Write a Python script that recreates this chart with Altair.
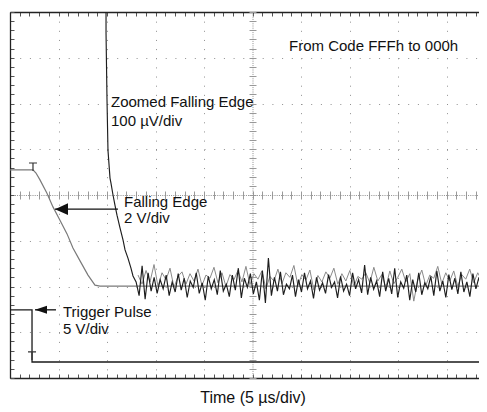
import altair as alt
import pandas as pd

W, H = 469, 366
FONT = "Liberation Sans"
GRID = "#8f8f8f"
T_MAX = 48.35          # visible end of the time axis (µs)

# ---------------- data (time in µs, level in screen divisions, 0 = bottom) -------------
# Trigger pulse (5 V/div)
trig_t = [0.0, 2.27, 2.27, 50.0]
trig_v = [1.49, 1.49, 0.35, 0.35]

# Falling edge (2 V/div)
edge_t = [0.0, 2.37, 2.68, 3.09, 3.81, 4.43, 5.15, 5.88, 6.49, 7.22, 8.04, 8.76, 9.28, 50.0]
edge_v = [4.55, 4.55, 4.48, 4.33, 4.04, 3.74, 3.45, 3.15, 2.84, 2.56, 2.25, 2.03, 2.01, 2.01]

# Zoomed falling edge (100 µV/div): the steep part ...
zoom_t = [9.90, 9.90, 10.00, 10.10, 10.31, 10.41, 10.62, 10.82, 11.03, 11.34, 11.65, 11.86,
          12.16, 12.47, 12.68]
zoom_v = [8.0, 7.54, 6.08, 4.98, 4.37, 4.26, 4.00, 3.78, 3.56, 3.28, 3.02, 2.80, 2.62, 2.40, 2.23]

# ... and the settled noise (dark samples)
noise_dark_t0, noise_dark_dt = 13.0, 0.31
noise_dark = [
    2.10, 1.80, 2.45, 1.72, 2.30, 1.90, 2.20, 1.85, 2.15, 1.95,
    2.25, 1.80, 2.10, 1.88, 2.28, 1.92, 2.18, 1.76, 2.12, 1.98,
    2.30, 1.85, 2.08, 1.70, 2.22, 1.95, 2.15, 1.82, 2.35, 1.90,
    2.05, 1.78, 2.25, 1.92, 2.40, 1.75, 2.18, 1.98, 2.28, 1.84,
    2.10, 1.70, 2.35, 1.64, 2.62, 1.80, 2.20, 1.90, 2.32, 1.82,
    2.05, 1.95, 2.25, 1.78, 2.15, 1.88, 2.30, 1.95, 2.12, 1.74,
    2.20, 1.92, 2.08, 1.85, 2.26, 1.98, 2.10, 1.75, 2.22, 1.90,
    2.05, 1.80, 2.30, 1.95, 2.15, 1.86, 2.47, 1.82, 2.20, 1.94,
    2.12, 1.78, 2.32, 1.90, 2.18, 1.84, 2.40, 1.76, 2.10, 1.96,
    2.25, 1.70, 2.15, 1.88, 2.30, 1.82, 2.08, 1.95, 2.22, 1.80,
    2.34, 1.90, 2.12, 1.76, 2.26, 1.93, 2.18, 1.84, 2.32, 1.88,
    2.10, 1.78, 2.28, 1.95, 2.20, 1.82, 2.30, 1.92, 2.15, 1.90,
]

# settled noise (grey persistence samples)
noise_grey_t0, noise_grey_dt = 13.2, 0.412
noise_grey = [
    2.25, 2.05, 2.35, 2.10, 2.48, 2.00, 2.30, 2.15, 2.40, 1.98,
    2.22, 2.32, 2.05, 2.28, 2.12, 2.38, 2.02, 2.25, 2.18, 2.42,
    2.08, 2.30, 2.00, 2.26, 2.15, 2.35, 2.10, 2.44, 2.04, 2.28,
    2.16, 2.34, 1.95, 2.22, 2.12, 2.38, 2.06, 2.30, 2.20, 2.46,
    2.02, 2.26, 2.14, 2.36, 1.92, 2.24, 2.10, 2.32, 2.18, 2.40,
    2.05, 2.28, 2.12, 2.35, 2.00, 2.22, 2.16, 2.30, 2.08, 2.42,
    2.12, 2.26, 1.98, 2.34, 2.06, 2.20, 2.38, 2.10, 2.28, 1.68,
    2.14, 2.36, 2.02, 2.25, 2.18, 2.44, 2.06, 2.30, 2.12, 2.34,
    2.00, 2.26, 2.16, 2.38, 2.08, 2.30, 2.14, 2.24, 2.04, 2.32,
]

# cursor "T" markers on the traces
marker_t = [2.37, 2.27]
marker_v = [4.70, 0.57]

# annotation arrows (tip, tail, level)
arrow_tip = [4.64, 2.58]
arrow_tail = [11.13, 4.74]
arrow_v = [3.69, 1.49]

# annotation texts
label_text = ["From Code FFFh to 000h", "Zoomed Falling Edge", "100 µV/div",
              "Falling Edge", "2 V/div", "Trigger Pulse", "5 V/div"]
label_t = [28.76, 10.41, 10.41, 11.75, 11.75, 5.46, 5.46]
label_v = [7.26, 6.03, 5.62, 3.85, 3.50, 1.44, 1.07]

# ---------------- tables -------------
trig_df = pd.DataFrame({"t": trig_t, "v": trig_v})
edge_df = pd.DataFrame({"t": edge_t, "v": edge_v})
dark_t = zoom_t + [noise_dark_t0 + i * noise_dark_dt for i in range(len(noise_dark))]
dark_df = pd.DataFrame({"t": dark_t, "v": zoom_v + noise_dark})
grey_df = pd.DataFrame({"t": [noise_grey_t0 + i * noise_grey_dt for i in range(len(noise_grey))],
                        "v": noise_grey})
marker_df = pd.DataFrame({"t": marker_t, "v": marker_v})
arrow_df = pd.DataFrame({"t": arrow_tip, "t2": arrow_tail, "v": arrow_v})
label_df = pd.DataFrame({"t": label_t, "v": label_v, "text": label_text})

XS = alt.Scale(domain=[0, T_MAX], nice=False, zero=False)
YS = alt.Scale(domain=[0, 8], nice=False, zero=False)

minor_x = list(range(0, 49))
minor_y = [round(i * 0.2, 2) for i in range(41)]
CX = 242.5  # pixel position of the centre graticule line (25 µs)

common = dict(labels=False, title=None)

# graticule grid + x title
axA_x = alt.Axis(orient="bottom", values=[5, 10, 15, 20, 30, 35, 40, 45], grid=True,
                 gridColor=GRID, gridDash=[1, 8.15], gridWidth=1, ticks=False, labels=False,
                 domain=False, title="Time (5 µs/div)", titleFont=FONT, titleFontSize=16,
                 titleFontWeight="normal", titleColor="#111", titleY=19, titleX=CX,
                 titleBaseline="middle")
axA_y = alt.Axis(orient="left", values=[1, 2, 3, 5, 6, 7], grid=True, gridColor=GRID,
                 gridDash=[1, 8.7], gridWidth=1, ticks=False, domain=False, **common)
# top border
axB_x = alt.Axis(orient="bottom", offset=-H, values=minor_x, tickSize=4, tickColor="#555",
                 domain=True, domainColor="#222", domainWidth=1.3, grid=False, **common)
# left border
axB_y = alt.Axis(orient="right", offset=-W, values=minor_y, tickSize=4, tickColor="#555",
                 domain=True, domainColor="#222", domainWidth=1.3, grid=False, **common)
# bottom border
axC_x = alt.Axis(orient="top", offset=-H, values=minor_x, tickSize=4, tickColor="#555",
                 domain=True, domainColor="#222", domainWidth=1.3, grid=False, **common)
# centre vertical ticks
axC_y = alt.Axis(orient="left", offset=-(CX + 3.5), values=minor_y, tickSize=7,
                 tickColor="#9a9a9a", domain=False, grid=False, **common)
# centre horizontal ticks
axD_x = alt.Axis(orient="bottom", offset=-(H / 2 + 4), values=minor_x, tickSize=8,
                 tickColor="#9a9a9a", domain=False, grid=False, **common)
# centre vertical line
axD_y = alt.Axis(orient="left", offset=-CX, domain=True, domainColor=GRID,
                 domainDash=[1, 1.2], ticks=False, grid=False, **common)
# centre horizontal line
axE_x = alt.Axis(orient="bottom", offset=-(H / 2), domain=True, domainColor=GRID,
                 domainDash=[1, 1.2], ticks=False, grid=False, **common)

trig = alt.Chart(trig_df).mark_line(color="#1a1a1a", strokeWidth=1.3, clip=True).encode(
    x=alt.X("t:Q", scale=XS, axis=axA_x), y=alt.Y("v:Q", scale=YS, axis=axA_y))

edge = alt.Chart(edge_df).mark_line(color="#7a7a7a", strokeWidth=1.2, clip=True).encode(
    x=alt.X("t:Q", scale=XS, axis=axB_x), y=alt.Y("v:Q", scale=YS, axis=axB_y))

grey = alt.Chart(grey_df).mark_line(color="#8a8a8a", strokeWidth=1.0, clip=True).encode(
    x=alt.X("t:Q", scale=XS, axis=axC_x), y=alt.Y("v:Q", scale=YS, axis=axC_y))

dark = alt.Chart(dark_df).mark_line(color="#1e1e1e", strokeWidth=1.15, clip=True).encode(
    x=alt.X("t:Q", scale=XS, axis=axD_x), y=alt.Y("v:Q", scale=YS, axis=axD_y))

markers = alt.Chart(marker_df).mark_point(
    shape="M-1,0L1,0M0,0L0,2", size=64, filled=False, color="#333", strokeWidth=1.2,
    opacity=1).encode(
    x=alt.X("t:Q", scale=XS, axis=axE_x), y=alt.Y("v:Q", scale=YS, axis=None))

arrow_lines = alt.Chart(arrow_df).mark_rule(color="#111", strokeWidth=1.3).encode(
    x=alt.X("t:Q", scale=XS, axis=None), x2="t2:Q", y=alt.Y("v:Q", scale=YS, axis=None))

head_big = alt.Chart(arrow_df.iloc[[0]]).mark_point(
    shape="M0,0L2,-0.9L2,0.9Z", size=169, filled=True, color="#111", opacity=1).encode(
    x=alt.X("t:Q", scale=XS, axis=None), y=alt.Y("v:Q", scale=YS, axis=None))

head_small = alt.Chart(arrow_df.iloc[[1]]).mark_point(
    shape="M0,0L2,-0.67L2,0.67Z", size=144, filled=True, color="#111", opacity=1).encode(
    x=alt.X("t:Q", scale=XS, axis=None), y=alt.Y("v:Q", scale=YS, axis=None))

labels = alt.Chart(label_df).mark_text(
    align="left", baseline="middle", font=FONT, fontSize=15, color="#111").encode(
    x=alt.X("t:Q", scale=XS, axis=None), y=alt.Y("v:Q", scale=YS, axis=None), text="text:N")

chart = alt.layer(trig, edge, grey, dark, markers, arrow_lines, head_big, head_small, labels
                  ).resolve_axis(x="independent", y="independent").properties(
    width=W, height=H,
    autosize=alt.AutoSizeParams(type="none"),
    padding={"left": 2, "top": 4, "right": 0, "bottom": 30},
    background="white",
).configure_view(strokeWidth=0, strokeOpacity=0)

chart.save("out.html", embed_options={"renderer": "svg", "actions": False})
